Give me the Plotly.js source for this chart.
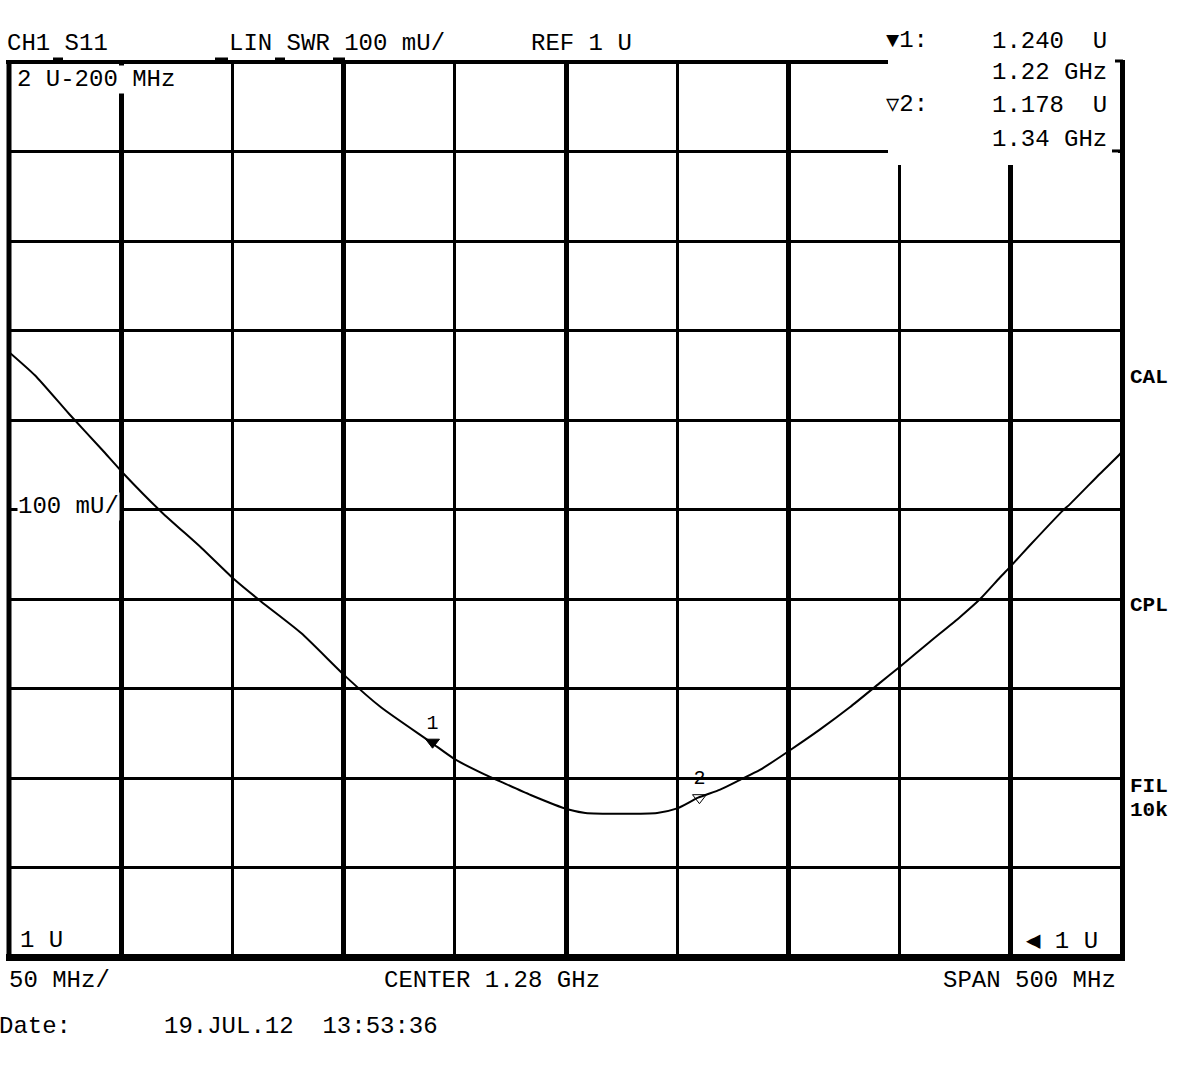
<!DOCTYPE html>
<html>
<head>
<meta charset="utf-8">
<script src="https://cdn.plot.ly/plotly-3.0.1.min.js"></script>
<style>
  html, body { margin: 0; padding: 0; background: #ffffff; }
  #chart { width: 1181px; height: 1090px; }
</style>
</head>
<body>
<div id="chart"></div>
<script>
// ---- data (S11, linear SWR) ----
var freqGHz = [1.0300, 1.0412, 1.0565, 1.0713, 1.0811, 1.0982, 1.1161, 1.1304, 1.1430, 1.1609,
               1.1811, 1.1968, 1.2192, 1.2300, 1.2417, 1.2506, 1.2641, 1.2807, 1.2887, 1.3210,
               1.3300, 1.3394, 1.3493, 1.3583, 1.3672, 1.3807, 1.3941, 1.4076, 1.4210, 1.4300,
               1.4435, 1.4572, 1.4662, 1.4751, 1.4801, 1.4886, 1.5035, 1.5066, 1.5201, 1.5291, 1.5300];
var swr     = [1.675, 1.650, 1.607, 1.567, 1.540, 1.497, 1.457, 1.423, 1.397, 1.362,
               1.313, 1.279, 1.240, 1.221, 1.206, 1.196, 1.181, 1.165, 1.161, 1.161,
               1.166, 1.178, 1.187, 1.198, 1.209, 1.231, 1.254, 1.279, 1.306, 1.324,
               1.352, 1.380, 1.400, 1.424, 1.437, 1.460, 1.499, 1.506, 1.540, 1.562, 1.565];
var markerFreq   = [1.22, 1.34];
var markerSwr    = [1.240, 1.178];
var markerLabels = ['1', '2'];

// axis settings (center 1.28 GHz, span 500 MHz, ref 1 U, 100 mU/div)
var xRange = [1.03, 1.53];
var yRange = [1.0, 2.0];

// text labels
var headerLabels  = ['CH1 S11', 'LIN SWR 100 mU/', 'REF 1 U'];
var readoutLabels = ['1.240\u00a0\u00a0U', '1.22 GHz', '1.178\u00a0\u00a0U', '1.34 GHz'];
var sideLabels    = ['CAL', 'CPL', 'FIL', '10k'];
var footerLabels  = ['50 MHz/', 'CENTER 1.28 GHz', 'SPAN 500 MHz'];
var dateLabels    = ['Date:', '19.JUL.12\u00a0\u00a013:53:36'];

// ---- layout helpers (pixel -> paper) ----
var L = 10, T = 62, W = 1112, H = 895.5;
function px(x) { return (x - L) / W; }
function py(y) { return (T + H - y) / H; }

var FONT = 'Liberation Mono, DejaVu Sans Mono, monospace';
function label(text, x, y, opts) {
  opts = opts || {};
  var a = {
    text: text, xref: 'paper', yref: 'paper', x: px(x), y: py(y),
    xanchor: 'left', yanchor: 'middle', showarrow: false,
    font: { family: FONT, size: opts.size || 24, color: '#000' }
  };
  if (opts.bg) { a.bgcolor = '#ffffff'; a.borderpad = 0; }
  return a;
}

var annotations = [
  label(headerLabels[0], 5, 43),
  label(headerLabels[1], 227, 43),
  label(headerLabels[2], 529, 43),
  label('<span style="font-size:22px">\u25BC</span>1:', 884, 40),
  label(readoutLabels[0], 990, 41),
  label(readoutLabels[1], 990, 73),
  label('<span style="font-size:22px">\u25BD</span>2:', 884, 105),
  label(readoutLabels[2], 990, 106),
  label(readoutLabels[3], 990, 140),
  label('2 U-200 MHz', 16, 80, { bg: true }),
  label('100 mU/', 17, 507, { bg: true }),
  label('1 U', 18, 941),
  label('\u25C0 1 U', 1024, 942),
  label('<b>' + sideLabels[0] + '</b>', 1128, 378, { size: 21 }),
  label('<b>' + sideLabels[1] + '</b>', 1128, 606, { size: 21 }),
  label('<b>' + sideLabels[2] + '</b>', 1128, 787, { size: 21 }),
  label('<b>' + sideLabels[3] + '</b>', 1128, 811, { size: 21 }),
  label(footerLabels[0], 7, 981),
  label(footerLabels[1], 382, 981),
  label(footerLabels[2], 941, 981),
  label(dateLabels[0], -3, 1027),
  label(dateLabels[1], 162, 1027)
];

function pline(x0, y0, x1, y1, w) {
  return { type: 'line', xref: 'paper', yref: 'paper', x0: px(x0), x1: px(x1), y0: py(y0), y1: py(y1),
           line: { color: '#000', width: w }, layer: 'above' };
}

var shapes = [
  // marker readout panel (covers grid at top right)
  { type: 'rect', xref: 'paper', yref: 'paper', x0: px(888), x1: px(1118), y0: py(165), y1: py(50),
    fillcolor: '#ffffff', line: { width: 0 }, layer: 'above' },
  // borders
  pline(9, 60, 9, 961, 5),          // left
  pline(6, 958, 1125, 958, 7),      // bottom
  pline(1122.5, 60, 1122.5, 961, 5),// right
  pline(6, 62, 888, 62, 4),         // top (stops at readout panel)
  // bracket hooks on the right border
  pline(1115, 61, 1123, 61, 3),
  pline(1112, 151, 1123, 151, 3),
  // small indicator ticks on top border
  pline(53, 59, 63, 59, 3),
  pline(215, 59, 228, 59, 3),
  pline(275, 59, 285, 59, 3),
  pline(333, 59, 345, 59, 3)
];

var traces = [
  {
    x: freqGHz, y: swr, type: 'scatter', mode: 'lines',
    line: { color: '#000', width: 2, shape: 'spline', smoothing: 0.6 },
    hoverinfo: 'skip', showlegend: false
  },
  {
    x: markerFreq, y: markerSwr, type: 'scatter', mode: 'markers+text',
    text: markerLabels, textposition: 'top center',
    textfont: { family: FONT, size: 20, color: '#000' },
    marker: { symbol: ['triangle-down', 'triangle-down-open'], size: 12, color: '#000',
              line: { color: '#000', width: 1 } },
    hoverinfo: 'skip', showlegend: false, cliponaxis: false
  }
];

var layout = {
  width: 1181, height: 1090,
  margin: { l: L, r: 1181 - L - W, t: T, b: 1090 - T - H, pad: 0 },
  paper_bgcolor: '#ffffff', plot_bgcolor: '#ffffff',
  showlegend: false,
  xaxis: {
    range: xRange, tick0: 1.08, dtick: 0.1, showticklabels: false, ticks: '',
    showgrid: true, gridcolor: '#000', gridwidth: 5, zeroline: false, showline: false,
    minor: { tick0: 1.03, dtick: 0.05, showgrid: true, gridcolor: '#000', gridwidth: 3, ticks: '' }
  },
  yaxis: {
    range: yRange, tick0: 1.0, dtick: 0.1, showticklabels: false, ticks: '',
    showgrid: true, gridcolor: '#000', gridwidth: 3, zeroline: false, showline: false
  },
  shapes: shapes,
  annotations: annotations
};

Plotly.newPlot('chart', traces, layout, { staticPlot: true, displayModeBar: false });
</script>
</body>
</html>
